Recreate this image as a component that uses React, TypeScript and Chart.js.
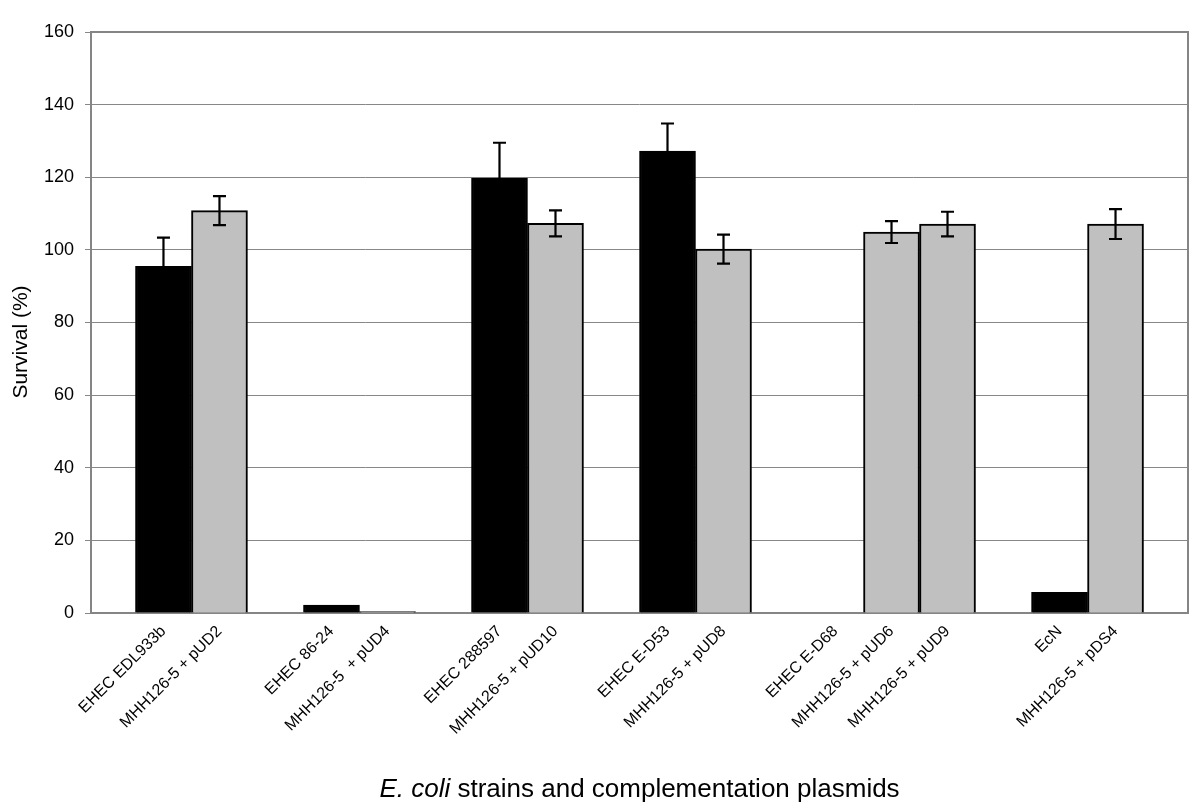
import React, { useEffect, useRef } from "react";
import { Chart, registerables } from "chart.js";

Chart.register(...registerables);

// ---- data ----
const labels: string[] = [
  "EHEC EDL933b",
  "MHH126-5 + pUD2",
  "",
  "EHEC 86-24",
  "MHH126-5  + pUD4",
  "",
  "EHEC 288597",
  "MHH126-5 + pUD10",
  "",
  "EHEC E-D53",
  "MHH126-5 + pUD8",
  "",
  "EHEC E-D68",
  "MHH126-5 + pUD6",
  "MHH126-5 + pUD9",
  "",
  "EcN",
  "MHH126-5 + pDS4",
];
const values: (number | null)[] = [
  95.5, 110.8, null, 2.2, 0.4, null, 119.8, 107.3, null, 127.2, 100.2, null, 0, 104.9, 107.1, null, 5.7, 107.1,
];
const errors: (number | null)[] = [
  7.9, 4.0, null, 0, 0, null, 9.7, 3.6, null, 7.6, 4.0, null, 0, 3.0, 3.4, null, 0, 4.1,
];
const kinds: string[] = [
  "strain", "plasmid", "", "strain", "plasmid", "", "strain", "plasmid", "", "strain", "plasmid", "",
  "strain", "plasmid", "plasmid", "", "strain", "plasmid",
];
const yMin = 0;
const yMax = 160;
const yStep = 20;
const yTitle = "Survival (%)";
const xTitleItalic = "E. coli";
const xTitleRest = " strains and complementation plasmids";

const FONT = "'Liberation Sans', Arial, Helvetica, sans-serif";

const framePlugin = {
  id: "frame",
  beforeDatasetsDraw(chart: any) {
    const { ctx, chartArea } = chart;
    ctx.save();
    ctx.strokeStyle = "#858585";
    ctx.lineWidth = 2;
    ctx.strokeRect(chartArea.left, chartArea.top, chartArea.right - chartArea.left, chartArea.bottom - chartArea.top);
    ctx.restore();
  },
};

const errorBarsPlugin = {
  id: "errorBars",
  afterDatasetsDraw(chart: any) {
    const { ctx } = chart;
    const xs = chart.scales.x;
    const ys = chart.scales.y;
    ctx.save();
    ctx.strokeStyle = "#000";
    ctx.lineWidth = 2.2;
    values.forEach((v, i) => {
      const e = errors[i];
      if (v == null || !e) return;
      const x = xs.getPixelForValue(i);
      const yT = ys.getPixelForValue(v + e);
      const yB = ys.getPixelForValue(v - e);
      ctx.beginPath();
      ctx.moveTo(x, yT);
      ctx.lineTo(x, yB);
      ctx.moveTo(x - 6.5, yT);
      ctx.lineTo(x + 6.5, yT);
      ctx.moveTo(x - 6.5, yB);
      ctx.lineTo(x + 6.5, yB);
      ctx.stroke();
    });
    ctx.restore();
  },
};

const titlesPlugin = {
  id: "titles",
  afterDraw(chart: any) {
    const { ctx, chartArea } = chart;
    ctx.save();
    ctx.fillStyle = "#000";
    // y title
    ctx.font = `21px ${FONT}`;
    ctx.textAlign = "center";
    ctx.textBaseline = "middle";
    ctx.translate(21, 342);
    ctx.rotate(-Math.PI / 2);
    ctx.fillText(yTitle, 0, 0);
    ctx.restore();

    ctx.save();
    ctx.fillStyle = "#000";
    ctx.textBaseline = "alphabetic";
    ctx.textAlign = "left";
    const italicFont = `italic 26px ${FONT}`;
    const normalFont = `26px ${FONT}`;
    ctx.font = italicFont;
    const w1 = ctx.measureText(xTitleItalic).width;
    ctx.font = normalFont;
    const w2 = ctx.measureText(xTitleRest).width;
    const cx = (chartArea.left + chartArea.right) / 2;
    const start = cx - (w1 + w2) / 2;
    const baseline = 797;
    ctx.font = italicFont;
    ctx.fillText(xTitleItalic, start, baseline);
    ctx.font = normalFont;
    ctx.fillText(xTitleRest, start + w1, baseline);
    ctx.restore();
  },
};

export default function App() {
  const ref = useRef<HTMLCanvasElement>(null);
  useEffect(() => {
    const canvas = ref.current;
    if (!canvas) return;
    const points = labels.map((_, i) => ({ x: i, y: values[i] }));
    const chart = new Chart(canvas, {
      type: "bar",
      data: {
        datasets: [
          {
            data: points as any,
            backgroundColor: kinds.map((k) => (k === "strain" ? "#000000" : "#c0c0c0")),
            borderColor: "#000000",
            borderWidth: 2,
            barPercentage: 1,
            categoryPercentage: 1,
          },
        ],
      },
      options: {
        responsive: false,
        animation: false,
        layout: { padding: { top: 32, right: 12, left: 0, bottom: 0 } },
        plugins: { legend: { display: false }, tooltip: { enabled: false } },
        scales: {
          x: {
            type: "linear",
            min: -0.75,
            max: labels.length - 0.25,
            afterBuildTicks: (s: any) => {
              s.ticks = labels.map((_, i) => ({ value: i }));
            },
            afterFit: (s: any) => {
              s.height = 198;
            },
            grid: { display: false, drawTicks: false },
            border: { display: false },
            ticks: {
              autoSkip: false,
              minRotation: 45,
              maxRotation: 45,
              padding: 9,
              color: "#000",
              font: { family: FONT, size: 16 },
              callback: (v: any) => labels[Math.round(Number(v))] ?? "",
            },
          } as any,
          y: {
            min: yMin,
            max: yMax,
            afterFit: (s: any) => {
              s.width = 91;
            },
            ticks: {
              stepSize: yStep,
              padding: 11,
              color: "#000",
              font: { family: FONT, size: 18 },
            },
            grid: { color: "#878787", lineWidth: 1, tickLength: 6 },
            border: { display: false },
          },
        },
      },
      plugins: [framePlugin, errorBarsPlugin, titlesPlugin],
    });
    return () => chart.destroy();
  }, []);
  return (
    <div style={{ position: "fixed", left: 0, top: 0, width: 1200, height: 811, background: "#fff" }}>
      <canvas ref={ref} width={1200} height={811} />
    </div>
  );
}
